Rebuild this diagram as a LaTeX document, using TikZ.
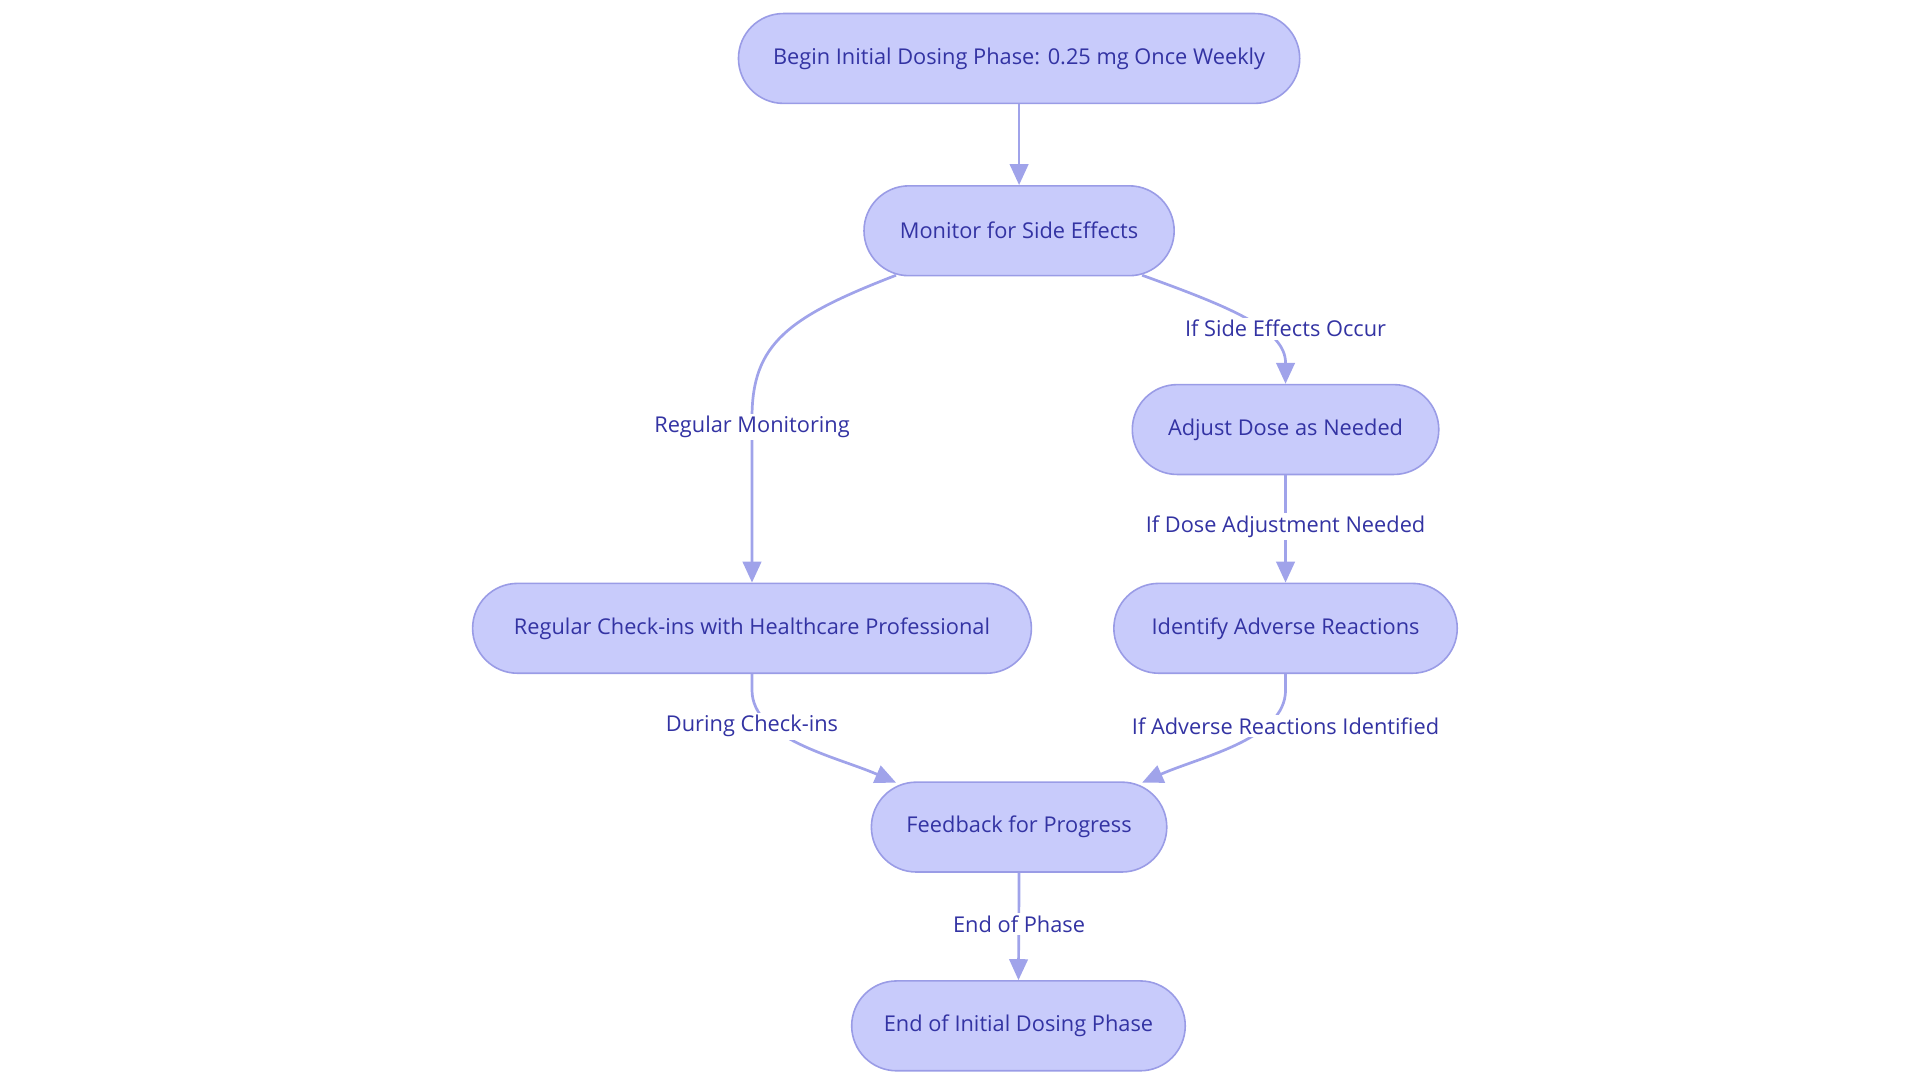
\documentclass[tikz,border=0pt]{standalone}
\usepackage{fontspec}
\setmainfont{Open Sans}
\usetikzlibrary{arrows.meta,calc}
\definecolor{nodefill}{HTML}{C8CBFB}
\definecolor{nodeborder}{HTML}{9A9CE6}
\definecolor{edgecol}{HTML}{A0A3EA}
\definecolor{txtcol}{HTML}{3333A3}
\begin{document}
\begin{tikzpicture}[x=1pt,y=-1pt,
  box/.style={draw=nodeborder, line width=1.3pt, fill=nodefill, rounded corners=36.5pt,
    minimum height=73pt, inner sep=0pt, text=txtcol, font=\fontsize{17.7}{21}\selectfont},
  lbl/.style={fill=white, text=txtcol, inner sep=2pt, font=\fontsize{17.7}{21}\selectfont},
  conn/.style={draw=edgecol, line width=2.2pt, -{Triangle[length=17pt,width=15pt]}}]
\useasboundingbox (0,0) rectangle (1560,880);
\node[box, minimum width=456pt] (begin) at (828,47.5) {Begin Initial Dosing Phase: 0.25 mg Once Weekly};
\node[box, minimum width=252pt] (monitor) at (828,187.5) {Monitor for Side Effects};
\node[box, minimum width=249pt] (adjust) at (1044.5,349) {Adjust Dose as Needed};
\node[box, minimum width=454pt] (checkins) at (611,510.5) {Regular Check-ins with Healthcare Professional};
\node[box, minimum width=279pt] (identify) at (1044.5,510.5) {Identify Adverse Reactions};
\node[box, minimum width=240pt] (feedback) at (828,672) {Feedback for Progress};
\node[box, minimum width=271pt] (endp) at (827.5,833.5) {End of Initial Dosing Phase};

\draw[conn] (begin.south) -- (monitor.north);
\draw[conn] ($(monitor.south)+(-100,-1)$) .. controls +(-88,34) and ($(checkins.north)+(0,-194)$) .. ($(checkins.north)+(0,-134)$) -- (checkins.north);
\node[lbl] (l1) at (611,347) {Regular Monitoring};
\draw[conn] ($(monitor.south)+(100,-1)$) .. controls +(72,26) and ($(adjust.north)+(0,-44)$) .. ($(adjust.north)+(0,-17)$) -- (adjust.north);
\node[lbl] (l2) at (1044.5,267) {If Side Effects Occur};
\draw[conn] (adjust.south) -- (identify.north);
\node[lbl] (l3) at (1044.5,428) {If Dose Adjustment Needed};
\draw[conn] (checkins.south) -- +(0,13) .. controls +(0,40) and ($(feedback.north)+(-148,-20)$) .. ($(feedback.north)+(-100,1)$);
\node[lbl] (l4) at (611,590) {During Check-ins};
\draw[conn] (identify.south) -- +(0,13) .. controls +(0,40) and ($(feedback.north)+(147,-20)$) .. ($(feedback.north)+(100,1)$);
\node[lbl] (l5) at (1044.5,590) {If Adverse Reactions Identified};
\draw[conn] (feedback.south) -- (endp.north);
\node[lbl] (l6) at (828,751) {End of Phase};
\end{tikzpicture}
\end{document}
